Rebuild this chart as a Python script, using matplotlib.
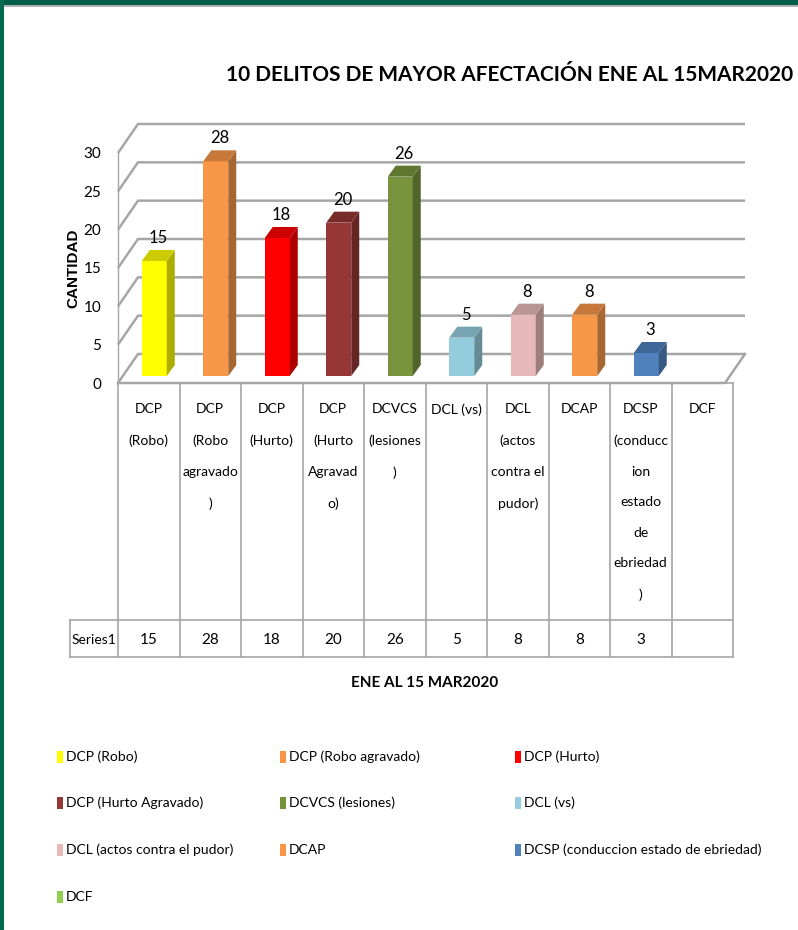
import numpy as np
import matplotlib.pyplot as plt
import matplotlib.colors as mcolors
from matplotlib.patches import Rectangle, Polygon
from matplotlib.lines import Line2D

# --- DATOS ---
categorias = ["DCP (Robo)", "DCP (Robo agravado)", "DCP (Hurto)", "DCP (Hurto Agravado)",
              "DCVCS (lesiones)", "DCL (vs)", "DCL (actos contra el pudor)", "DCAP",
              "DCSP (conduccion estado de ebriedad)", "DCF"]
etiquetas_tabla = ["DCP\n(Robo)", "DCP\n(Robo\nagravado\n)", "DCP\n(Hurto)", "DCP\n(Hurto\nAgravad\no)",
                   "DCVCS\n(lesiones\n)", "DCL (vs)", "DCL\n(actos\ncontra el\npudor)", "DCAP",
                   "DCSP\n(conducc\nion\nestado\nde\nebriedad\n)", "DCF"]
valores = [15, 28, 18, 20, 26, 5, 8, 8, 3, None]
colores = ['#FFFF00', '#F79646', '#FF0000', '#953735', '#77933C',
           '#93CDDD', '#E6B9B8', '#F79646', '#4F81BD', '#92D050']
serie = "Series1"
titulo = "10 DELITOS DE MAYOR AFECTACIÓN ENE AL 15MAR2020"
eje_x = "ENE AL 15 MAR2020"
eje_y = "CANTIDAD"
yticks = [0, 5, 10, 15, 20, 25, 30]

FUENTE = ['Lato', 'DejaVu Sans']
W, H = 798, 930
GRIS = '#A6A6A6'
TAM = 10

def fx(px):
    return px / W

def fy(py):
    return 1 - py / H

fig = plt.figure(figsize=(W / 100, H / 100), dpi=100)
fig.patch.set_facecolor('white')

# marco verde
fig.add_artist(Rectangle((0, fy(5)), 1, 5 / H, transform=fig.transFigure, color='#005E4A', lw=0))
fig.add_artist(Rectangle((0, fy(7)), 1, 2 / H, transform=fig.transFigure, color='#B0B0B0', lw=0))
fig.add_artist(Rectangle((0, 0), 3.5 / W, 1, transform=fig.transFigure, color='#006B4F', lw=0))

# --- EJES ---
x_izq, x_der = 118, 733
y_cero, px_u = 383, 7.667
ytop = 34
ax = fig.add_axes([fx(x_izq), fy(y_cero), (x_der - x_izq) / W, ytop * px_u / H])
ax.set_xlim(-0.5, 9.5)
ax.set_ylim(0, ytop)
for s in ax.spines.values():
    s.set_visible(False)
ax.set_xticks([])
ax.set_yticks(yticks)
ax.set_yticklabels([str(t) for t in yticks], fontsize=11, family=FUENTE)
ax.tick_params(axis='y', length=0, pad=12)
ax.patch.set_alpha(0)

px_x = (x_der - x_izq) / 10.0
wdx, wdy = 20 / px_x, 29 / px_u          # profundidad de la pared
bdx, bdy = 8 / px_x, 11 / px_u           # profundidad de las barras
base = 7 / px_u
off = 5.5 / px_x
ancho = 25 / px_x
x_fin = 9.5 - 8 / px_x

# paredes y lineas de division
for t in yticks:
    ax.plot([-0.5, -0.5 + wdx, x_fin + wdx], [t, t + wdy, t + wdy], color=GRIS, lw=1.8, clip_on=False,
            solid_capstyle='butt')
ax.plot([-0.5, x_fin, x_fin + wdx], [0, 0, wdy], color=GRIS, lw=1.8, clip_on=False)
ax.plot([-0.5, -0.5], [0, 30], color=GRIS, lw=1.0, clip_on=False)

# --- BARRAS 3D ---
x = np.arange(len(categorias))
v = np.array([np.nan if val is None else val for val in valores], dtype=float)
frentes = ax.bar(x + off, v, width=ancho, bottom=base, color=colores, edgecolor='none', zorder=3)
for i, (xi, vi, c) in enumerate(zip(x, v, colores)):
    if np.isnan(vi):
        continue
    rgb = np.array(mcolors.to_rgb(c))
    x0 = xi + off - ancho / 2
    x1 = x0 + ancho
    y0, y1 = base, base + vi
    lado = Polygon([(x1, y0), (x1 + bdx, y0 + bdy), (x1 + bdx, y1 + bdy), (x1, y1)],
                   closed=True, facecolor=rgb * 0.68, edgecolor='none', zorder=3)
    tapa = Polygon([(x0, y1), (x1, y1), (x1 + bdx, y1 + bdy), (x0 + bdx, y1 + bdy)],
                   closed=True, facecolor=rgb * 0.8, edgecolor='none', zorder=3)
    ax.add_patch(lado)
    ax.add_patch(tapa)
    ax.text(xi + off + bdx / 2, y1 + bdy + 0.5, f"{int(vi)}", ha='center', va='bottom',
            fontsize=12, family=FUENTE, zorder=4)

# --- TABLA DE DATOS ---
y_fila, y_fin, x_serie = 620, 657, 70
lineas = []
for k in range(11):
    xk = x_izq + k * px_x
    lineas.append(([xk, xk], [y_cero, y_fin]))
lineas.append(([x_izq, x_der], [y_cero, y_cero]))
lineas.append(([x_serie, x_der], [y_fila, y_fila]))
lineas.append(([x_serie, x_der], [y_fin, y_fin]))
lineas.append(([x_serie, x_serie], [y_fila, y_fin]))
for xs, ys in lineas:
    fig.add_artist(Line2D([fx(p) for p in xs], [fy(p) for p in ys], transform=fig.transFigure,
                          color=GRIS, lw=1.2))

for k, (lab, val) in enumerate(zip(etiquetas_tabla, valores)):
    xc = x_izq + (k + 0.5) * px_x
    fig.text(fx(xc), fy(403), lab, ha='center', va='top', fontsize=TAM, family=FUENTE,
             linespacing=2.85, multialignment='center')
    if val is not None:
        fig.text(fx(xc), fy(640), str(val), ha='center', va='center', fontsize=11, family=FUENTE)
fig.text(fx(94), fy(640), serie, ha='center', va='center', fontsize=TAM, family=FUENTE)
fig.text(fx(425), fy(683), eje_x, ha='center', va='center', fontsize=11, fontweight='bold', family=FUENTE)

# --- TITULOS ---
fig.text(fx(510), fy(75), titulo, ha='center', va='center', fontsize=15, fontweight='bold', family=FUENTE)
fig.text(fx(73), fy(268), eje_y, ha='center', va='center', rotation=90, fontsize=11,
         fontweight='bold', family=['Liberation Sans', 'DejaVu Sans'])

# --- LEYENDA ---
cols_x = [57, 280, 515]
filas_y = [757, 803, 850, 897]
for i, (lab, c) in enumerate(zip(categorias, colores)):
    px0 = cols_x[i % 3]
    py0 = filas_y[i // 3]
    fig.add_artist(Rectangle((fx(px0), fy(py0 + 6)), 6 / W, 12 / H, transform=fig.transFigure,
                             facecolor=c, edgecolor='none'))
    fig.text(fx(px0 + 9), fy(py0), lab, ha='left', va='center', fontsize=TAM, family=FUENTE)

fig.savefig('out.png', dpi=100)
